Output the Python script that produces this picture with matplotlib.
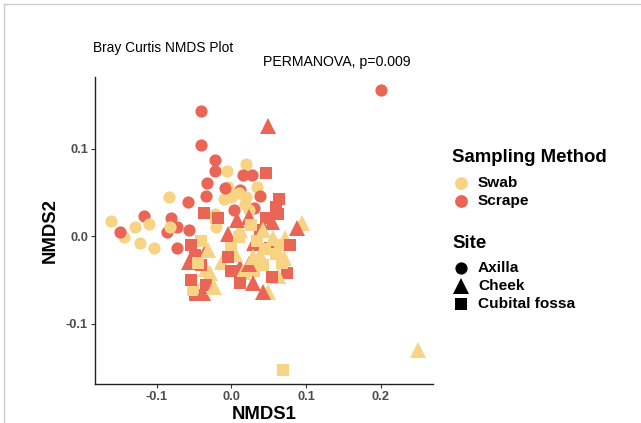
import matplotlib
matplotlib.use("Agg")
import matplotlib.pyplot as plt
from matplotlib.lines import Line2D

plt.rcParams['font.family'] = ['Liberation Sans', 'DejaVu Sans']

# NMDS ordination scores (Bray Curtis), one row per sample
nmds1 = [
    # axilla, scrape
    0.200, -0.041, -0.041, -0.022, -0.022, 0.015, 0.028, -0.032, -0.008, 0.011,
    -0.034, 0.038, -0.058, 0.004, 0.030, -0.117, -0.081, -0.149, -0.086, -0.073,
    -0.057, -0.072,
    # axilla, swab
    0.019, -0.006, -0.004, 0.010, 0.019, 0.034, -0.010, 0.018, 0.000, -0.083,
    -0.161, -0.143, -0.129, -0.110, -0.122, -0.103, -0.082, -0.022, -0.021, 0.023,
    # cheek, scrape
    0.049, 0.008, 0.024, 0.055, 0.088, -0.005, 0.030, -0.056, -0.038, 0.012,
    0.029, 0.043, -0.034, 0.023,
    # cheek, swab
    0.250, 0.095, 0.072, 0.056, -0.031, -0.034, -0.023, -0.028, 0.029, 0.039,
    0.016, 0.049, 0.042, 0.012, -0.012, 0.070, 0.005, 0.062,
    # cubital fossa, scrape
    0.047, 0.064, 0.060, 0.063, 0.046, -0.037, -0.018, 0.052, -0.005, -0.054,
    -0.048, -0.041, -0.054, -0.034, -0.048, 0.055, 0.074, 0.012, 0.079, 0.039,
    0.000,
    # cubital fossa, swab
    0.069, -0.020, -0.045, 0.010, 0.035, 0.043, 0.068, -0.041, -0.051, 0.026,
    0.000, 0.045, 0.060, 0.030, 0.065,
]
nmds2 = [
    0.167, 0.143, 0.104, 0.087, 0.074, 0.070, 0.070, 0.061, 0.055, 0.053,
    0.046, 0.046, 0.039, 0.030, 0.032, 0.023, 0.021, 0.005, 0.005, 0.010,
    0.007, -0.014,
    0.083, 0.075, 0.056, 0.049, 0.045, 0.056, 0.043, 0.037, 0.045, 0.045,
    0.017, -0.001, 0.011, 0.014, -0.008, -0.014, 0.010, 0.025, 0.010, 0.030,
    0.126, 0.019, 0.022, 0.016, 0.009, 0.002, -0.008, -0.030, -0.065, -0.035,
    -0.054, -0.064, -0.016, -0.032,
    -0.130, 0.015, -0.002, -0.002, -0.016, -0.037, -0.058, -0.042, -0.024, -0.022,
    -0.041, -0.064, 0.007, 0.007, -0.030, -0.025, -0.020, -0.045,
    0.072, 0.043, 0.033, 0.025, 0.021, 0.026, 0.021, -0.013, -0.024, -0.010,
    -0.022, -0.033, -0.050, -0.056, -0.067, -0.047, -0.042, -0.054, -0.010, 0.007,
    -0.040,
    -0.153, 0.021, -0.031, -0.001, -0.005, -0.033, -0.031, -0.005, -0.062, 0.013,
    -0.010, -0.015, -0.020, -0.040, -0.010,
]
method = (["Scrape"] * 22 + ["Swab"] * 20 + ["Scrape"] * 14 + ["Swab"] * 18
          + ["Scrape"] * 21 + ["Swab"] * 15)
site = (["Axilla"] * 42 + ["Cheek"] * 32 + ["Cubital fossa"] * 36)

method_levels = ["Swab", "Scrape"]
site_levels = ["Axilla", "Cheek", "Cubital fossa"]
colors = {"Swab": "#F7D383", "Scrape": "#E96656"}
markers = {"Axilla": "o", "Cheek": "^", "Cubital fossa": "s"}
msize = {"Axilla": 8.8, "Cheek": 11.0, "Cubital fossa": 8.2}

W, H = 641, 423
fig = plt.figure(figsize=(W / 100, H / 100), dpi=100)
ax = fig.add_axes([95 / W, 39 / H, 338 / W, 307 / H])

# interleave the groups so overlapping points mix like the original row order
order = sorted(range(len(nmds1)), key=lambda i: (i * 37) % len(nmds1))
for i in order:
    ax.plot(nmds1[i], nmds2[i], linestyle="none", marker=markers[site[i]],
            markersize=msize[site[i]], color=colors[method[i]],
            markeredgewidth=0)

ax.set_xlim(-0.1823, 0.2697)
ax.set_ylim(-0.169, 0.182)
ax.set_xticks([-0.1, 0.0, 0.1, 0.2])
ax.set_yticks([-0.1, 0.0, 0.1])
ax.set_xticklabels(["-0.1", "0.0", "0.1", "0.2"])
ax.set_yticklabels(["-0.1", "0.0", "0.1"])
for lab in ax.get_xticklabels() + ax.get_yticklabels():
    lab.set_fontweight("bold")
ax.tick_params(colors="#333333", labelcolor="#4D4D4D", labelsize=9.3,
               length=3, width=0.8, pad=2)
for s in ["top", "right"]:
    ax.spines[s].set_visible(False)
for s in ["left", "bottom"]:
    ax.spines[s].set_linewidth(1.0)
    ax.spines[s].set_color("#222222")

ax.set_xlabel("NMDS1", fontsize=13.3, fontweight="bold", labelpad=2)
ax.set_ylabel("NMDS2", fontsize=13.3, fontweight="bold", labelpad=5)

fig.text(93 / W, 1 - 48 / H, "Bray Curtis NMDS Plot", fontsize=9.9,
         va="center", ha="left")
fig.text(337 / W, 1 - 62 / H, "PERMANOVA, p=0.009", fontsize=10.2,
         va="center", ha="center")

# legends
def fx(px):
    return px / W


def fy(py):
    return 1 - py / H


fig.text(fx(452), fy(157), "Sampling Method", fontsize=13.4, fontweight="bold",
         va="center", ha="left")
for k, m in enumerate(method_levels):
    yy = 183 + 18 * k
    fig.add_artist(Line2D([fx(461)], [fy(yy)], marker="o", markersize=9.2,
                          color=colors[m], markeredgewidth=0,
                          transform=fig.transFigure))
    fig.text(fx(478), fy(yy), m, fontsize=11.1, fontweight="bold",
             va="center", ha="left")

fig.text(fx(452), fy(243), "Site", fontsize=13.4, fontweight="bold",
         va="center", ha="left")
for k, s in enumerate(site_levels):
    yy = 268 + 18 * k
    fig.add_artist(Line2D([fx(461)], [fy(yy)], marker=markers[s],
                          markersize=msize[s], color="black",
                          markeredgewidth=0, transform=fig.transFigure))
    fig.text(fx(478), fy(yy), s, fontsize=11.1, fontweight="bold",
             va="center", ha="left")

# thin frame on the top and left edges
fig.add_artist(Line2D([fx(4), 1], [fy(4), fy(4)], color="#CCCCCC", lw=1,
                      transform=fig.transFigure))
fig.add_artist(Line2D([fx(4), fx(4)], [fy(4), 0], color="#CCCCCC", lw=1,
                      transform=fig.transFigure))

fig.savefig("out.png", dpi=100)
